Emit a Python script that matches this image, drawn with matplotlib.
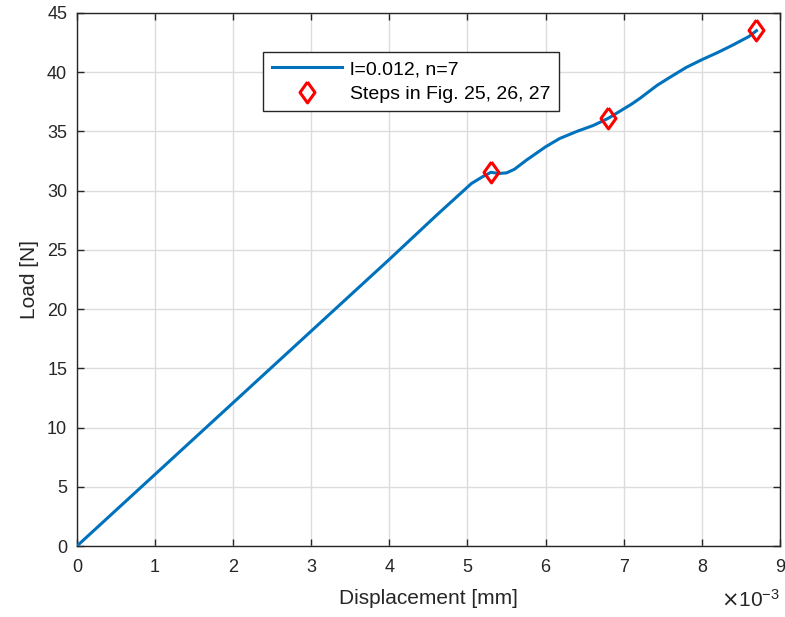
import matplotlib
matplotlib.use("Agg")
import matplotlib.pyplot as plt
from matplotlib.ticker import FuncFormatter, MultipleLocator
import numpy as np

plt.rcParams['font.family'] = ['Liberation Sans', 'DejaVu Sans']

# Curve data (displacement in mm, load in N)
disp = [0.0, 1.0e-3, 2.0e-3, 3.0e-3, 4.0e-3, 4.6e-3, 4.9e-3, 5.05e-3, 5.2e-3, 5.3e-3,
        5.4e-3, 5.5e-3, 5.6e-3, 5.76e-3, 6.0e-3, 6.18e-3, 6.4e-3, 6.61e-3, 6.8e-3,
        6.95e-3, 7.1e-3, 7.21e-3, 7.43e-3, 7.6e-3, 7.8e-3, 8.0e-3, 8.2e-3, 8.4e-3,
        8.6e-3, 8.7e-3]
load = [0.0, 6.05, 12.1, 18.15, 24.2, 27.9, 29.7, 30.6, 31.2, 31.55,
        31.45, 31.5, 31.8, 32.6, 33.7, 34.4, 35.0, 35.5, 36.1,
        36.7, 37.3, 37.8, 38.9, 39.6, 40.4, 41.05, 41.65, 42.3,
        43.0, 43.5]

step_disp = [5.3e-3, 6.8e-3, 8.7e-3]
step_load = [31.55, 36.1, 43.6]

diamond = [(0, 1), (0.72, 0), (0, -1), (-0.72, 0), (0, 1)]

fig = plt.figure(figsize=(7.85, 6.17), dpi=100)
ax = fig.add_axes([0.098, 0.115, 0.8955, 0.864])

ax.plot(disp, load, color='#0072BD', lw=2.2, label='l=0.012, n=7', zorder=3)
ax.plot(step_disp, step_load, linestyle='none', marker=diamond, markersize=15,
        markerfacecolor='none', markeredgecolor='#FF0000', markeredgewidth=2.2,
        label='Steps in Fig. 25, 26, 27', zorder=4)

ax.set_xlim(0, 9e-3)
ax.set_ylim(0, 45)
ax.xaxis.set_major_locator(MultipleLocator(1e-3))
ax.yaxis.set_major_locator(MultipleLocator(5))
ax.xaxis.set_major_formatter(FuncFormatter(lambda v, p: f"{v*1e3:.0f}"))

ax.grid(True, color='#dcdcdc', lw=1)
ax.set_axisbelow(True)
ax.tick_params(direction='in', top=True, right=True, labelsize=13, colors='#262626',
               length=5, width=1)
ax.tick_params(axis='x', pad=9)
ax.tick_params(axis='y', pad=7)
for s in ax.spines.values():
    s.set_color('#262626')
    s.set_linewidth(1)

ax.set_xlabel('Displacement [mm]', fontsize=15, color='#262626', labelpad=10)
ax.set_ylabel('Load [N]', fontsize=15, color='#262626', labelpad=6)

ax.text(1.0, -0.08, r'$\times\mathregular{10^{-3}}$', transform=ax.transAxes,
        ha='right', va='top', fontsize=15, color='#262626')

leg = ax.legend(loc='upper left', bbox_to_anchor=(0.265, 0.927), fontsize=14,
                frameon=True, fancybox=False, edgecolor='#262626', framealpha=1,
                handlelength=3.6, handletextpad=0.4, borderpad=0.45, labelspacing=0.35,
                borderaxespad=0)
leg.get_frame().set_linewidth(1)

fig.savefig('out.png', dpi=100)
